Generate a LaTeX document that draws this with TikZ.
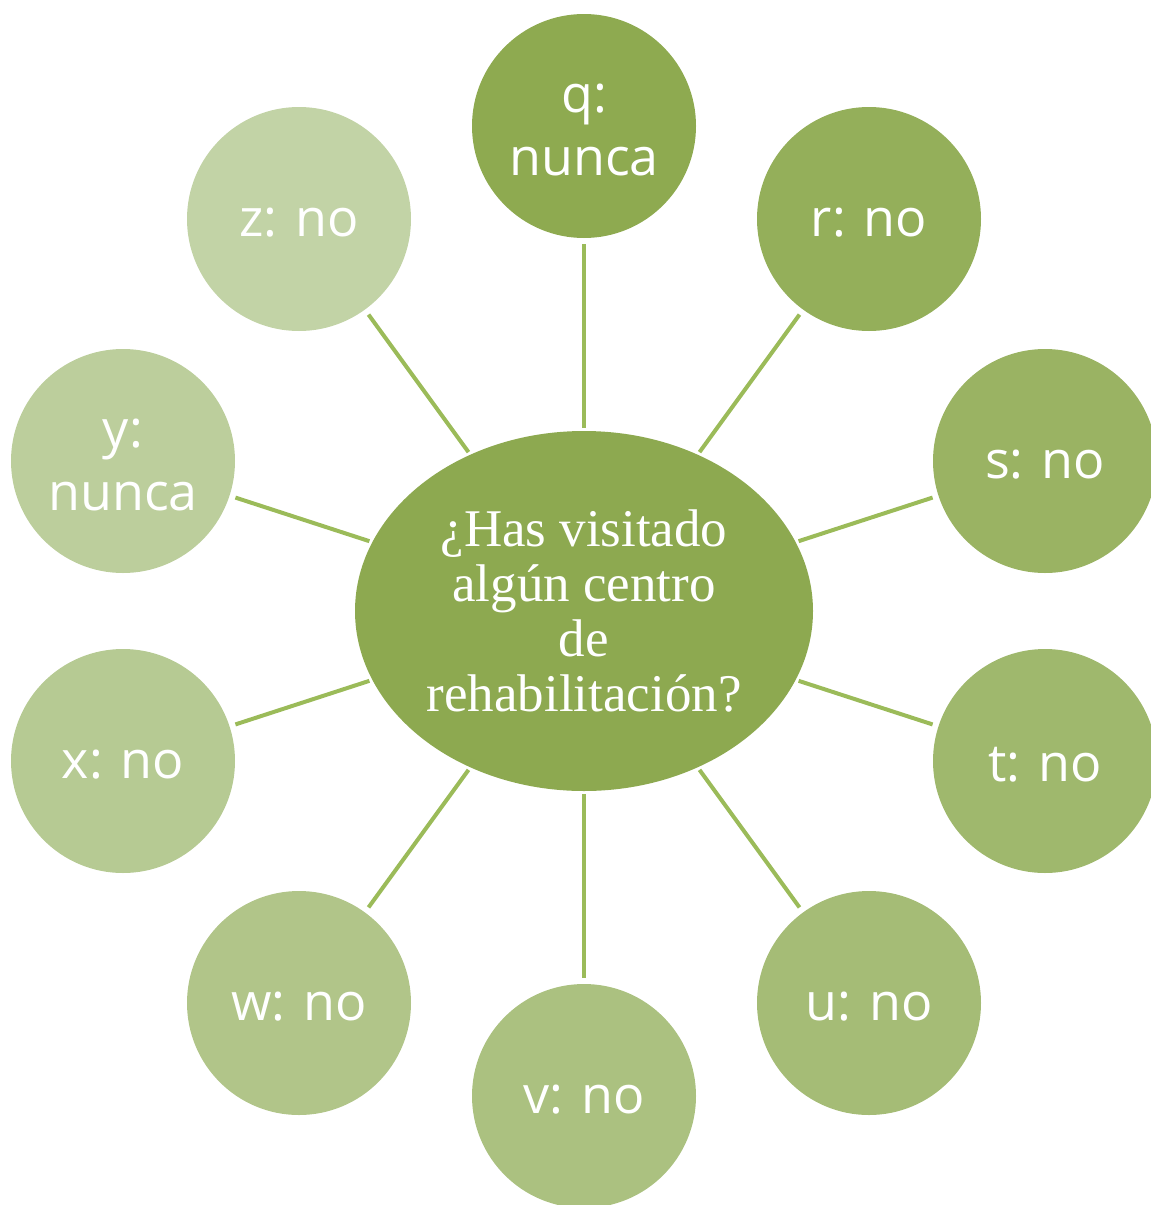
\documentclass[tikz,border=0pt]{standalone}
\usepackage{fontspec}
\usetikzlibrary{shapes.geometric}
\newfontfamily\osans{Open Sans}
\newfontfamily\tnr{Liberation Serif}
\definecolor{cq}{RGB}{142,170,80}
\definecolor{cr}{RGB}{148,175,90}
\definecolor{cs}{RGB}{154,179,99}
\definecolor{ct}{RGB}{159,184,109}
\definecolor{cu}{RGB}{165,188,118}
\definecolor{cv}{RGB}{171,193,128}
\definecolor{cw}{RGB}{177,197,137}
\definecolor{cx}{RGB}{182,202,147}
\definecolor{cy}{RGB}{188,206,156}
\definecolor{cz}{RGB}{194,211,166}
\definecolor{cc}{RGB}{141,169,80}
\definecolor{cline}{RGB}{155,187,89}
\begin{document}
\begin{tikzpicture}[x=1pt,y=-1pt,
  outer/.style={circle,minimum size=224pt,inner sep=0pt},
  lbl/.style={text=white,align=center,inner sep=0pt,yshift=-4pt,
    font=\osans\fontsize{52}{63}\selectfont},
  centre/.style={ellipse,minimum width=458pt,minimum height=360pt,inner sep=0pt,fill=cc},
  conn/.style={draw=cline,line width=4pt,shorten <=3pt,shorten >=6pt}]
\useasboundingbox (0,0) rectangle (1151,1205);
\node[centre] (c) at (584,611) {};
\node[text=white,align=center,font=\tnr\fontsize{53}{55}\selectfont] (ctext) at (584,611)
  {¿Has visitado\\algún centro\\de\\rehabilitación?};
\node[outer,fill=cq] (q) at (584,126) {};
\node[outer,fill=cr] (r) at (869,219) {};
\node[outer,fill=cs] (s) at (1045,461) {};
\node[outer,fill=ct] (t) at (1045,761) {};
\node[outer,fill=cu] (u) at (869,1003) {};
\node[outer,fill=cv] (v) at (584,1096) {};
\node[outer,fill=cw] (w) at (299,1003) {};
\node[outer,fill=cx] (x) at (123,761) {};
\node[outer,fill=cy] (y) at (123,461) {};
\node[outer,fill=cz] (z) at (299,219) {};
\node[lbl] (lq) at (q.center) {q:\\nunca};
\node[lbl] (lr) at (r.center) {r: no};
\node[lbl] (ls) at (s.center) {s: no};
\node[lbl] (lt) at (t.center) {t: no};
\node[lbl] (lu) at (u.center) {u: no};
\node[lbl] (lv) at (v.center) {v: no};
\node[lbl] (lw) at (w.center) {w: no};
\node[lbl] (lx) at (x.center) {x: no};
\node[lbl] (ly) at (y.center) {y:\\nunca};
\node[lbl] (lz) at (z.center) {z: no};
\foreach \n in {q,r,s,t,u,v,w,x,y,z}
  \draw[conn] (c) -- (\n);
\end{tikzpicture}
\end{document}
